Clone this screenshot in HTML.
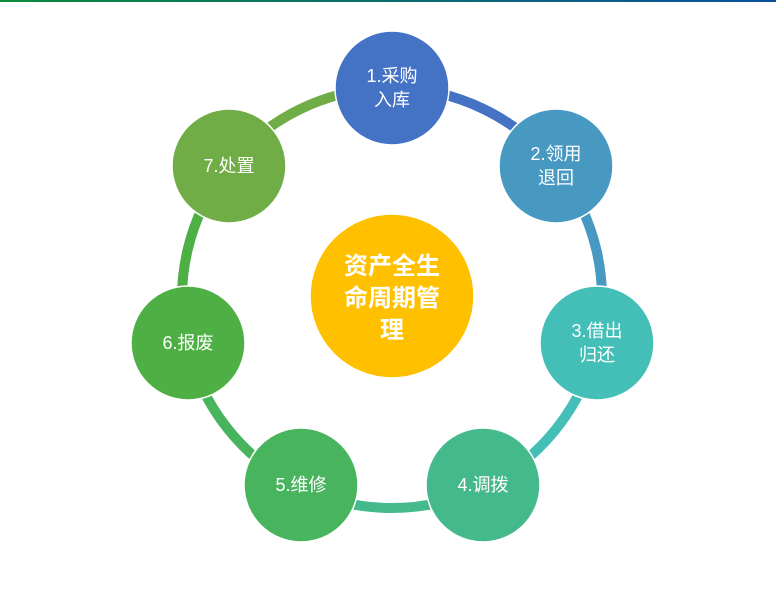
<!DOCTYPE html>
<html><head><meta charset="utf-8"><style>
html,body{margin:0;padding:0;background:#fff;width:776px;height:601px;overflow:hidden}
svg text{font-family:"Liberation Sans","Noto Sans CJK SC",sans-serif;fill:#fff}
</style></head><body>
<svg width="776" height="601" viewBox="0 0 776 601" xmlns="http://www.w3.org/2000/svg">
<defs><linearGradient id="tg" x1="0" x2="1"><stop offset="0" stop-color="#0a8a3a"/><stop offset="1" stop-color="#0b4fa0"/></linearGradient></defs>
<rect x="0" y="0" width="776" height="2" fill="url(#tg)"/>
<g fill="none" stroke-width="10">
<path d="M392 88 A210 210 0 0 1 556.2 167.1" stroke="#4472c4"/>
<path d="M556.2 167.1 A210 210 0 0 1 596.7 344.7" stroke="#4799c2"/>
<path d="M596.7 344.7 A210 210 0 0 1 483.1 487.2" stroke="#44bfb8"/>
<path d="M483.1 487.2 A210 210 0 0 1 300.9 487.2" stroke="#44b98c"/>
<path d="M300.9 487.2 A210 210 0 0 1 187.3 344.7" stroke="#48b55e"/>
<path d="M187.3 344.7 A210 210 0 0 1 227.8 167.1" stroke="#4daf44"/>
<path d="M227.8 167.1 A210 210 0 0 1 392 88" stroke="#70ad47"/>
</g>
<g stroke="#fff" stroke-width="1.5">
<circle cx="392" cy="88" r="57" fill="#4472c4"/>
<circle cx="556" cy="166" r="57" fill="#4799c2"/>
<circle cx="597" cy="343" r="57" fill="#44bfb8"/>
<circle cx="483" cy="485" r="57" fill="#44b98c"/>
<circle cx="301" cy="485" r="57" fill="#48b55e"/>
<circle cx="188" cy="343" r="57" fill="#4daf44"/>
<circle cx="229" cy="166" r="57" fill="#70ad47"/>
<circle cx="392" cy="296" r="82" fill="#ffc000"/>
</g>
<g font-size="18" text-anchor="middle">
<text x="392" y="82">1.采购</text><text x="392" y="106">入库</text>
<text x="556" y="160">2.领用</text><text x="556" y="184">退回</text>
<text x="597" y="337">3.借出</text><text x="597" y="361">归还</text>
<text x="483" y="491">4.调拨</text>
<text x="301" y="491">5.维修</text>
<text x="188" y="349">6.报废</text>
<text x="229" y="172">7.处置</text>
</g>
<g font-size="24" font-weight="bold" text-anchor="middle">
<text x="392" y="274">资产全生</text>
<text x="392" y="306">命周期管</text>
<text x="392" y="338">理</text>
</g>
</svg>
</body></html>
